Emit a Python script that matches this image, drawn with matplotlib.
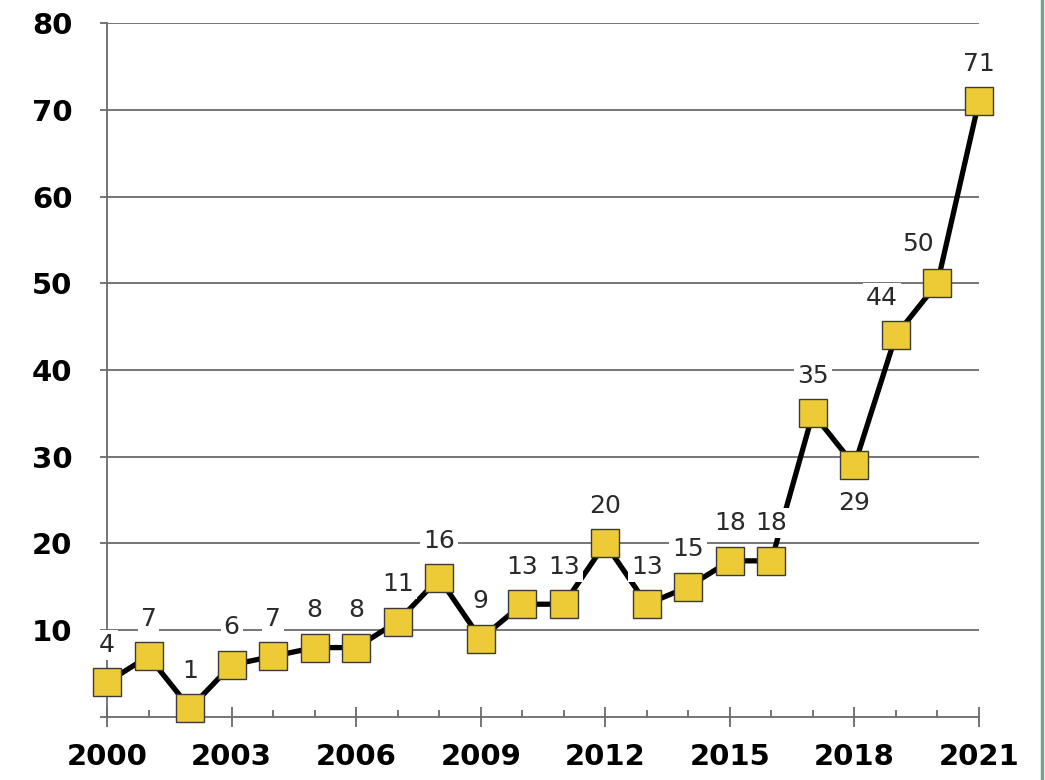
import numpy as np
import matplotlib
matplotlib.use("Agg")
import matplotlib.pyplot as plt
from matplotlib.lines import Line2D

# data
years = list(range(2000, 2022))
counts = [4, 7, 1, 6, 7, 8, 8, 11, 16, 9, 13, 13, 20, 13, 15, 18, 18, 35, 29, 44, 50, 71]

# label offsets in points (default: above the marker)
label_offsets = {2018: (0, -27), 2019: (-10, 27), 2020: (-14, 28)}

grid_col = "#6a6a6a"
yellow = "#EDCB36"

fig = plt.figure(figsize=(10.45, 7.8), dpi=100)
ax = fig.add_axes([0.1024, 0.0808, 0.8344, 0.8897])

ax.set_xlim(2000, 2021)
ax.set_ylim(0, 80)

for v in range(10, 90, 10):
    ax.axhline(v, color=grid_col, lw=1.3, zorder=1)

# line first, then the labels (white boxes cut the line/grid), then markers
ax.plot(years, counts, color="black", lw=3.8, zorder=3, clip_on=False)

for yr, c in zip(years, counts):
    dx, dy = label_offsets.get(yr, (0, 27))
    ax.annotate(str(c), (yr, c), xytext=(dx, dy), textcoords="offset points",
                ha="center", va="center", fontsize=18, color="#2a2a2a",
                bbox=dict(boxstyle="square,pad=0.12", fc="white", ec="none"),
                zorder=4, annotation_clip=False)

ax.plot(years, counts, linestyle="none", zorder=5, clip_on=False,
        marker="s", markersize=20, markerfacecolor=yellow,
        markeredgecolor="#3a3a3a", markeredgewidth=1.0)

for side in ["top", "right"]:
    ax.spines[side].set_visible(False)
for side in ["left", "bottom"]:
    ax.spines[side].set_color(grid_col)
    ax.spines[side].set_linewidth(1.3)
    ax.spines[side].set_zorder(2)

ax.set_yticks(range(0, 90, 10))
ax.set_yticklabels([""] + [str(v) for v in range(10, 90, 10)])
ax.set_xticks(range(2000, 2022, 3))
ax.set_xticks(years, minor=True)

ax.tick_params(axis="y", length=5, width=1.3, color=grid_col, pad=20,
               labelsize=21)
ax.tick_params(axis="x", which="major", direction="inout", length=14,
               width=1.3, color=grid_col, pad=12, labelsize=21)
ax.tick_params(axis="x", which="minor", direction="in", length=5,
               width=1.3, color=grid_col)
for lab in ax.get_xticklabels() + ax.get_yticklabels():
    lab.set_fontweight("bold")

# green frame edge on the right
fig.add_artist(Line2D([1042 / 1045, 1042 / 1045], [0, 1],
                      transform=fig.transFigure, color="#6FA58A", lw=2.5))

fig.savefig("out.png", dpi=100, facecolor="white")
